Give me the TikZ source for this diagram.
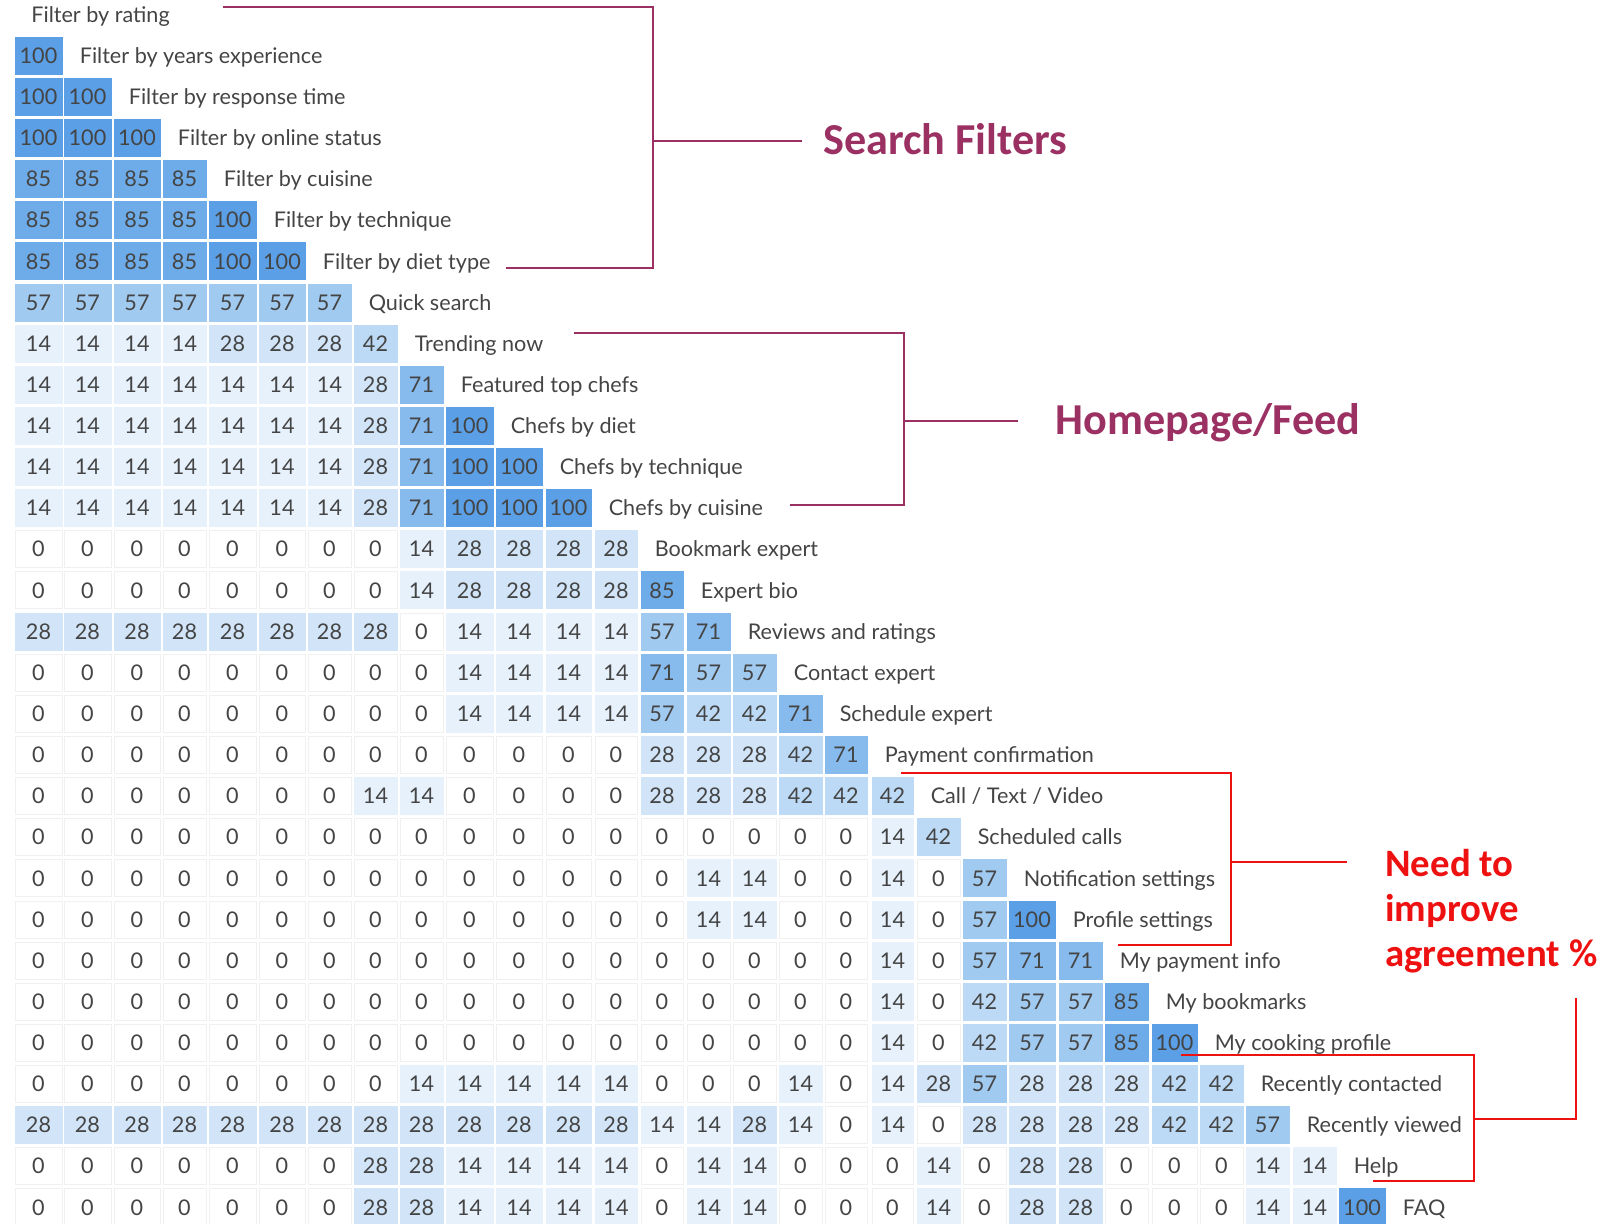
\documentclass[tikz,border=0pt]{standalone}
\usepackage{fontspec}
\setmainfont{Lato}
\newfontfamily\calfont{Carlito}
\usetikzlibrary{positioning}

% cell colours by agreement value
\definecolor{sim0}{HTML}{FFFFFF}
\definecolor{sim14}{HTML}{E7F1FC}
\definecolor{sim28}{HTML}{D2E5F8}
\definecolor{sim42}{HTML}{BCD9F5}
\definecolor{sim57}{HTML}{A1CAF1}
\definecolor{sim71}{HTML}{87BAED}
\definecolor{sim85}{HTML}{6EACE9}
\definecolor{sim100}{HTML}{5B9FE6}
\definecolor{inkgray}{HTML}{444444}
\definecolor{plum}{HTML}{9B3063}
\definecolor{alertred}{HTML}{EE1111}

\tikzset{
  cell/.style={inner sep=0pt, minimum height=18.5pt, text height=7.7pt, text depth=0pt,
    text=inkgray, font=\fontsize{10.8}{12}\selectfont},
  rowlabel/.style={inner sep=0pt, text height=7.7pt, text depth=0pt,
    text=inkgray, font=\fontsize{10.8}{12}\selectfont},
  grouptitle/.style={inner sep=0pt, text=plum, font=\calfont\bfseries\fontsize{22.1}{26}\selectfont},
  alerttitle/.style={inner sep=0pt, text=alertred, align=left,
    font=\calfont\bfseries\fontsize{19.4}{22.5}\selectfont},
  bracket/.style={draw=plum, line width=1pt},
  redbracket/.style={draw=alertred, line width=1.25pt},
}

\begin{document}
\begin{tikzpicture}[x=0.5pt, y=-0.5pt]
\useasboundingbox (0,0) rectangle (1618,1224);

% column edges (px)
\def\colL{{15,64,114,163,209,259,308,354,400,446,496,546,595,641,687,733,779,825,872,917,963,1009,1059,1105,1152,1200,1246,1293,1339}}
\def\colR{{62,111,160,206,256,305,351,397,443,493,542,591,637,683,730,776,822,867,913,960,1006,1055,1102,1148,1197,1243,1289,1336,1385}}

% matrix cells
\foreach \vals [count=\r] in {
  {100},
  {100,100},
  {100,100,100},
  {85,85,85,85},
  {85,85,85,85,100},
  {85,85,85,85,100,100},
  {57,57,57,57,57,57,57},
  {14,14,14,14,28,28,28,42},
  {14,14,14,14,14,14,14,28,71},
  {14,14,14,14,14,14,14,28,71,100},
  {14,14,14,14,14,14,14,28,71,100,100},
  {14,14,14,14,14,14,14,28,71,100,100,100},
  {0,0,0,0,0,0,0,0,14,28,28,28,28},
  {0,0,0,0,0,0,0,0,14,28,28,28,28,85},
  {28,28,28,28,28,28,28,28,0,14,14,14,14,57,71},
  {0,0,0,0,0,0,0,0,0,14,14,14,14,71,57,57},
  {0,0,0,0,0,0,0,0,0,14,14,14,14,57,42,42,71},
  {0,0,0,0,0,0,0,0,0,0,0,0,0,28,28,28,42,71},
  {0,0,0,0,0,0,0,14,14,0,0,0,0,28,28,28,42,42,42},
  {0,0,0,0,0,0,0,0,0,0,0,0,0,0,0,0,0,0,14,42},
  {0,0,0,0,0,0,0,0,0,0,0,0,0,0,14,14,0,0,14,0,57},
  {0,0,0,0,0,0,0,0,0,0,0,0,0,0,14,14,0,0,14,0,57,100},
  {0,0,0,0,0,0,0,0,0,0,0,0,0,0,0,0,0,0,14,0,57,71,71},
  {0,0,0,0,0,0,0,0,0,0,0,0,0,0,0,0,0,0,14,0,42,57,57,85},
  {0,0,0,0,0,0,0,0,0,0,0,0,0,0,0,0,0,0,14,0,42,57,57,85,100},
  {0,0,0,0,0,0,0,0,14,14,14,14,14,0,0,0,14,0,14,28,57,28,28,28,42,42},
  {28,28,28,28,28,28,28,28,28,28,28,28,28,14,14,28,14,0,14,0,28,28,28,28,42,42,57},
  {0,0,0,0,0,0,0,28,28,14,14,14,14,0,14,14,0,0,0,14,0,28,28,0,0,0,14,14},
  {0,0,0,0,0,0,0,28,28,14,14,14,14,0,14,14,0,0,0,14,0,28,28,0,0,0,14,14,100}}{
  \foreach \v [count=\c] in \vals {
    \pgfmathsetmacro{\xl}{\colL[\c-1]}
    \pgfmathsetmacro{\xr}{\colR[\c-1]}
    \pgfmathsetmacro{\w}{(\xr-\xl)/2}
    \pgfmathsetmacro{\yc}{55.7+41.13*(\r-1)}
    \ifnum\v=0 \def\edge{black!6}\else\def\edge{sim\v}\fi
    \node[cell, fill=sim\v, draw=\edge, minimum width=\w pt] (c-\r-\c) at ({(\xl+\xr)/2},\yc) {\v};
  }
}

% row names
\node[rowlabel, anchor=west] (l-0) at (31,14.5) {Filter by rating};
\foreach \name [count=\r] in {Filter by years experience, Filter by response time,
  Filter by online status, Filter by cuisine, Filter by technique, Filter by diet type,
  Quick search, Trending now, Featured top chefs, Chefs by diet, Chefs by technique,
  Chefs by cuisine, Bookmark expert, Expert bio, Reviews and ratings, Contact expert,
  Schedule expert, Payment confirmation, {Call / Text / Video}, Scheduled calls,
  Notification settings, Profile settings, My payment info, My bookmarks,
  My cooking profile, Recently contacted, Recently viewed, Help, FAQ}
  \node[rowlabel, right=8.5pt of c-\r-\r] (l-\r) {\name};

% group titles
\node[grouptitle, anchor=base west] (sf) at (823,155) {Search Filters};
\node[grouptitle, anchor=base west] (hf) at (1055,435) {Homepage/Feed};
\node[alerttitle, anchor=north west] (ni) at (1385,849) {Need to\\improve\\agreement \%};

% search filters bracket
\coordinate (sf-top) at (223,7);
\coordinate (sf-bot) at (506,268);
\coordinate (sf-mid) at (653,141);
\coordinate (sf-tip) at (802,141);
\draw[bracket] (sf-top) -- (sf-top -| sf-mid) -- (sf-bot -| sf-mid) -- (sf-bot);
\draw[bracket] (sf-mid) -- (sf-tip);

% homepage bracket
\coordinate (hf-top) at (574,333);
\coordinate (hf-bot) at (790,505);
\coordinate (hf-mid) at (904,421);
\coordinate (hf-tip) at (1018,421);
\draw[bracket] (hf-top) -- (hf-top -| hf-mid) -- (hf-bot -| hf-mid) -- (hf-bot);
\draw[bracket] (hf-mid) -- (hf-tip);

% red brackets
\coordinate (ra-top) at (901,773);
\coordinate (ra-bot) at (1118,945);
\coordinate (ra-mid) at (1231,862);
\coordinate (ra-tip) at (1347,862);
\draw[redbracket] (ra-top) -- (ra-top -| ra-mid) -- (ra-bot -| ra-mid) -- (ra-bot);
\draw[redbracket] (ra-mid) -- (ra-tip);

\coordinate (rb-top) at (1181,1055);
\coordinate (rb-bot) at (1373,1181);
\coordinate (rb-mid) at (1474,1119);
\coordinate (rb-knee) at (1576,1119);
\coordinate (rb-tip) at (1576,998);
\draw[redbracket] (rb-top) -- (rb-top -| rb-mid) -- (rb-bot -| rb-mid) -- (rb-bot);
\draw[redbracket] (rb-mid) -- (rb-knee) -- (rb-tip);
\end{tikzpicture}
\end{document}
